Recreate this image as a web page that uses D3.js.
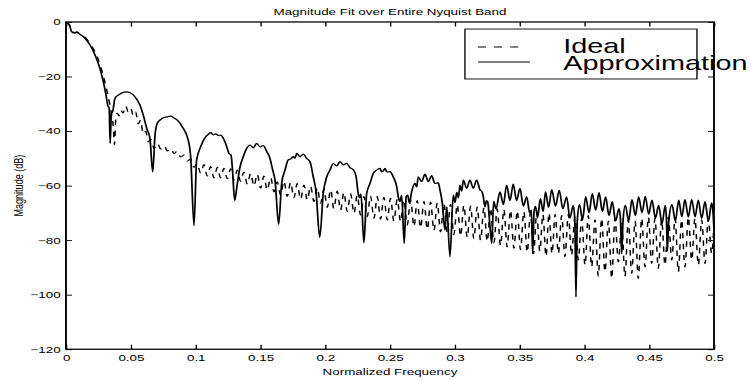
<!DOCTYPE html>
<html>
<head>
<meta charset="utf-8">
<script src="https://cdn.jsdelivr.net/npm/d3@7"></script>
<style>
  body { margin: 0; background: #fff; }
  svg { display: block; }
  text { font-family: "Liberation Sans", Arial, Helvetica, sans-serif; fill: #000; }
</style>
</head>
<body>
<script>
// tick values and labels
var xTicks = [0, 0.05, 0.1, 0.15, 0.2, 0.25, 0.3, 0.35, 0.4, 0.45, 0.5];
var xTickLabels = ["0", "0.05", "0.1", "0.15", "0.2", "0.25", "0.3", "0.35", "0.4", "0.45", "0.5"];
var yTicks = [-120, -100, -80, -60, -40, -20, 0];
var yTickLabels = ["\u2212120", "\u2212100", "\u221280", "\u221260", "\u221240", "\u221220", "0"];
var seriesNames = ["Ideal", "Approximation"];

// [normalized frequency, dB]
var ideal = [
  [0,0],[0.0026,-1.0],[0.0044,-3.3],[0.0069,-3.9],[0.0082,-3.6],[0.0108,-4.3],[0.0147,-5.6],[0.0185,-7.9],
  [0.0224,-11.0],[0.0262,-15.5],[0.0288,-19.8],[0.0314,-24.8],[0.0334,-29.3],[0.0353,-34.2],[0.0365,-38.5],[0.0374,-45.0],
  [0.0385,-35.0],[0.0396,-33.5],[0.0410,-34.5],[0.0422,-32.3],[0.0440,-33.4],[0.0461,-30.8],[0.0480,-33.0],[0.0499,-31.6],
  [0.0520,-34.4],[0.0538,-33.0],[0.0557,-37.4],[0.0576,-36.0],[0.0596,-41.0],[0.0615,-40.0],[0.0635,-44.0],[0.0654,-43.0],
  [0.0680,-46.5],[0.0705,-44.5],[0.0731,-46.6],[0.0757,-45.3],[0.0782,-47.3],[0.0808,-46.3],[0.0834,-48.3],[0.0859,-47.3],
  [0.0885,-49.5],[0.0911,-48.8],[0.0936,-51.0],[0.0962,-50.2],[0.0988,-53.3],[0.1013,-51.9],[0.1039,-55.5],[0.1065,-52.3],
  [0.1090,-56.5],[0.1116,-53.0],[0.1142,-57.2],[0.1168,-53.3],[0.1193,-57.2],[0.1219,-53.6],[0.1245,-57.5],[0.1270,-53.8],
  [0.1296,-58.0],[0.1322,-54.3],[0.1347,-58.5],[0.1373,-55.0],[0.1399,-59.5],[0.1425,-55.5],[0.1450,-60.2],[0.1476,-55.8],
  [0.1502,-61.0],[0.1527,-56.5],[0.1553,-61.7],[0.1579,-57.0],[0.1605,-62.3],[0.1630,-58.6],[0.1656,-63.5],[0.1682,-58.3],
  [0.1707,-64.0],[0.1733,-58.8],[0.1759,-64.5],[0.1784,-59.2],[0.1810,-65.0],[0.1836,-59.8],[0.1862,-65.3],[0.1887,-60.2],
  [0.1913,-65.8],[0.1939,-60.8],[0.1964,-66.5],[0.1990,-61.2],[0.2016,-68.0],[0.2042,-61.5],[0.2067,-68.5],[0.2093,-62.0],
  [0.2119,-69.0],[0.2144,-62.5],[0.2170,-69.5],[0.2196,-63.0],[0.2222,-70.2],[0.2247,-63.5],[0.2273,-70.8],[0.2299,-64.0],
  [0.2324,-71.5],[0.2350,-63.8],[0.2376,-72.0],[0.2402,-64.0],[0.2427,-72.3],[0.2453,-64.3],[0.2479,-72.7],[0.2504,-64.6],
  [0.2530,-73.0],[0.2556,-65.0],[0.2582,-73.3],[0.2607,-65.2],[0.2633,-74.5],[0.2659,-65.3],[0.2685,-75.0],[0.2710,-65.5],
  [0.2736,-75.5],[0.2762,-65.8],[0.2788,-76.0],[0.2813,-66.0],[0.2839,-76.5],[0.2865,-66.3],[0.2890,-77.0],[0.2916,-66.5],
  [0.2942,-77.3],[0.2967,-66.8],[0.2993,-78.0],[0.3019,-67.0],[0.3045,-78.5],[0.3070,-67.2],[0.3096,-79.0],[0.3122,-67.5],
  [0.3147,-79.5],[0.3173,-67.8],[0.3199,-80.0],[0.3225,-68.0],[0.3250,-80.5],[0.3276,-68.2],[0.3302,-81.0],[0.3327,-68.5],
  [0.3353,-82.0],[0.3379,-68.7],[0.3404,-82.5],[0.3430,-69.0],[0.3456,-83.0],[0.3482,-69.2],[0.3507,-83.5],[0.3533,-69.5],
  [0.3559,-84.5],[0.3584,-69.8],[0.3608,-85.0],[0.3632,-70.0],[0.3656,-84.0],[0.3680,-70.5],[0.3704,-86.0],[0.3727,-70.0],
  [0.3750,-85.0],[0.3775,-70.5],[0.3799,-84.9],[0.3825,-71.0],[0.3850,-86.1],[0.3876,-70.5],[0.3901,-85.5],[0.3927,-71.5],
  [0.3953,-87.3],[0.3979,-72.0],[0.4005,-89.2],[0.4030,-71.0],[0.4056,-89.8],[0.4082,-72.5],[0.4107,-93.2],[0.4133,-72.0],
  [0.4159,-91.6],[0.4185,-73.0],[0.4211,-94.1],[0.4236,-72.0],[0.4262,-88.0],[0.4288,-73.5],[0.4313,-93.4],[0.4339,-72.5],
  [0.4365,-92.2],[0.4391,-73.0],[0.4416,-94.1],[0.4442,-72.0],[0.4468,-89.8],[0.4494,-71.5],[0.4519,-88.6],[0.4545,-72.0],
  [0.4570,-90.4],[0.4596,-72.5],[0.4622,-89.2],[0.4648,-71.5],[0.4674,-87.3],[0.4700,-72.0],[0.4725,-91.6],[0.4750,-72.5],
  [0.4776,-89.8],[0.4802,-71.5],[0.4828,-87.3],[0.4853,-72.0],[0.4879,-89.2],[0.4905,-72.5],[0.4931,-88.6],[0.4956,-72.0],
  [0.4982,-84.9],[0.5,-74.0]
];

var approx = [
  [0,0],[0.0013,-0.5],[0.0026,-1.1],[0.0044,-3.6],[0.0069,-4.1],[0.0082,-3.8],[0.0108,-4.5],[0.0147,-6.0],[0.0185,-8.4],
  [0.0224,-12.1],[0.0262,-17.0],[0.0288,-21.9],[0.0309,-26.8],[0.0322,-30.5],[0.0333,-31.6],[0.0341,-44.5],[0.0350,-33.5],
  [0.0360,-32.9],[0.0378,-28.0],[0.0404,-26.8],[0.0442,-25.8],[0.0468,-25.6],[0.0494,-25.9],[0.0532,-27.4],[0.0571,-30.5],
  [0.0596,-34.1],[0.0623,-39.0],[0.0648,-42.7],[0.0669,-55.0],
  [0.0687,-41.5],[0.0704,-37.2],[0.0730,-35.8],[0.0756,-35.0],[0.0782,-34.8],[0.0808,-34.5],[0.0833,-35.2],[0.0859,-36.0],
  [0.0897,-38.4],[0.0949,-44.5],[0.0962,-49.4],[0.0988,-74.7],
  [0.1008,-50.6],[0.1039,-45.8],[0.1078,-42.1],[0.1098,-41.2],[0.1117,-40.6],[0.1136,-41.4],[0.1155,-41.0],[0.1175,-41.6],
  [0.1194,-41.5],[0.1213,-42.6],[0.1232,-44.5],[0.1258,-48.2],[0.1273,-48.8],[0.1283,-53.0],[0.1302,-65.5],
  [0.1317,-61.0],[0.1343,-53.1],[0.1368,-49.4],[0.1394,-46.4],[0.1420,-45.1],[0.1445,-46.2],[0.1471,-44.5],[0.1497,-45.8],
  [0.1522,-45.3],[0.1549,-47.5],[0.1574,-50.0],[0.1595,-54.3],[0.1613,-58.0],[0.1641,-74.2],
  [0.1664,-59.2],[0.1690,-54.3],[0.1715,-50.6],[0.1735,-50.2],[0.1754,-49.4],[0.1767,-50.0],[0.1780,-48.2],[0.1806,-49.4],
  [0.1831,-48.4],[0.1857,-50.0],[0.1883,-51.3],[0.1908,-56.8],[0.1929,-62.0],[0.1958,-79.0],
  [0.1985,-62.9],[0.2012,-56.8],[0.2037,-54.3],[0.2063,-51.9],[0.2089,-52.8],[0.2114,-51.2],[0.2140,-52.4],[0.2166,-51.8],
  [0.2191,-53.4],[0.2217,-54.2],[0.2238,-56.5],[0.2255,-62.9],[0.2265,-64.5],[0.2276,-63.0],[0.2299,-81.0],
  [0.2320,-62.9],[0.2346,-59.2],[0.2371,-55.5],[0.2397,-54.3],[0.2423,-53.7],[0.2436,-55.0],[0.2448,-54.6],[0.2462,-53.7],
  [0.2475,-55.0],[0.2500,-54.9],[0.2525,-56.8],[0.2552,-60.4],[0.2564,-64.1],[0.2577,-65.9],[0.2590,-63.5],[0.2610,-81.2],
  [0.2625,-64.1],[0.2637,-63.5],[0.2650,-66.5],[0.2667,-62.3],[0.2693,-59.2],[0.2706,-60.5],[0.2718,-56.8],[0.2745,-58.5],
  [0.2770,-55.8],[0.2796,-58.6],[0.2821,-56.3],[0.2847,-59.2],[0.2873,-59.0],[0.2886,-61.7],[0.2904,-66.5],[0.2924,-76.3],
  [0.2938,-67.8],[0.2963,-86.1],
  [0.2988,-63.5],[0.3002,-66.2],[0.3015,-62.5],[0.3028,-64.5],[0.3040,-59.8],[0.3053,-62.0],[0.3066,-58.0],[0.3092,-61.0],
  [0.3117,-58.0],[0.3143,-61.0],[0.3169,-58.0],[0.3194,-61.5],[0.3210,-62.2],[0.3220,-64.1],[0.3233,-67.8],[0.3244,-65.5],
  [0.3254,-66.0],[0.3272,-75.1],[0.3285,-81.2],
  [0.3300,-65.8],[0.3318,-68.5],[0.3349,-62.3],[0.3375,-67.0],[0.3400,-59.8],[0.3426,-65.5],[0.3451,-59.4],[0.3477,-65.5],
  [0.3503,-61.0],[0.3529,-67.5],[0.3555,-64.1],[0.3578,-70.0],[0.3591,-69.0],[0.3601,-85.0],[0.3612,-69.5],[0.3622,-67.6],
  [0.3640,-71.5],[0.3660,-64.8],[0.3682,-69.5],[0.3700,-62.3],[0.3724,-68.0],[0.3748,-61.5],[0.3777,-67.5],[0.3806,-61.7],
  [0.3834,-68.5],[0.3863,-64.1],[0.3888,-72.0],[0.3914,-67.2],[0.3926,-72.5],[0.3935,-100.8],[0.3945,-73.0],[0.3962,-67.0],
  [0.3986,-72.5],[0.4010,-64.0],[0.4036,-70.0],[0.4061,-62.9],[0.4087,-69.0],[0.4113,-62.6],[0.4139,-69.5],[0.4164,-64.1],
  [0.4190,-71.0],[0.4215,-65.9],[0.4241,-73.0],[0.4267,-68.4],[0.4278,-72.0],[0.4288,-85.0],[0.4298,-73.0],[0.4316,-67.2],
  [0.4342,-73.0],[0.4367,-65.1],[0.4393,-71.0],[0.4419,-64.1],[0.4445,-70.0],[0.4470,-63.9],[0.4496,-70.5],[0.4522,-65.3],
  [0.4548,-72.0],[0.4573,-67.2],[0.4599,-74.0],[0.4624,-67.2],[0.4633,-72.0],[0.4640,-84.0],[0.4650,-73.5],[0.4676,-67.0],
  [0.4702,-73.0],[0.4728,-65.3],[0.4752,-71.5],[0.4776,-65.1],[0.4802,-71.5],[0.4828,-65.1],[0.4854,-71.5],[0.4879,-65.3],
  [0.4905,-72.0],[0.4931,-65.9],[0.4957,-73.0],[0.4982,-66.3],[0.4993,-70.0],[0.5,-76.0]
];

chart();

function chart ()
{
    // drawn as a 560x420 figure, then stretched onto the 751x380 page like the picture
    var W = 560, H = 420;
    var left = 49.2, right = 532.4, top = 24.3, bottom = 386;

    var svg = d3.select("body").append("svg")
            .attr("width", 751)
            .attr("height", 380)
            .attr("viewBox", "0 0 " + W + " " + H)
            .attr("preserveAspectRatio", "none");

    var xScale = d3.scaleLinear().domain([0, 0.5]).range([left, right]);
    var yScale = d3.scaleLinear().domain([-120, 0]).range([bottom, top]);

    var line = d3.line()
            .x(function (d) { return xScale(d[0]); })
            .y(function (d) { return yScale(d[1]); })
            .curve(d3.curveMonotoneX);

    // curves
    svg.append("path")
            .attr("fill", "none")
            .attr("stroke", "#000")
            .attr("stroke-width", 1.1)
            .attr("stroke-dasharray", "6,6")
            .attr("d", line(ideal));
    svg.append("path")
            .attr("fill", "none")
            .attr("stroke", "#000")
            .attr("stroke-width", 1.3)
            .attr("stroke-linejoin", "round")
            .attr("d", line(approx));

    // axes, ticks pointing inward on all four sides
    function clean(g)
    {
        g.select(".domain").remove();
        g.selectAll(".tick line").attr("stroke", "#000").attr("stroke-width", 1);
        g.attr("font-size", 10);
    }
    svg.append("g")
            .attr("transform", "translate(0," + bottom + ")")
            .call(d3.axisBottom(xScale).tickValues(xTicks)
                    .tickFormat(function (d, i) { return xTickLabels[i]; })
                    .tickSizeInner(-5).tickSizeOuter(0).tickPadding(6))
            .call(clean);
    svg.append("g")
            .attr("transform", "translate(0," + top + ")")
            .call(d3.axisTop(xScale).tickValues(xTicks).tickFormat("")
                    .tickSizeInner(-5).tickSizeOuter(0))
            .call(clean);
    svg.append("g")
            .attr("transform", "translate(" + left + ",0)")
            .call(d3.axisLeft(yScale).tickValues(yTicks)
                    .tickFormat(function (d, i) { return yTickLabels[i]; })
                    .tickSizeInner(-4.5).tickSizeOuter(0).tickPadding(4))
            .call(clean);
    svg.append("g")
            .attr("transform", "translate(" + right + ",0)")
            .call(d3.axisRight(yScale).tickValues(yTicks).tickFormat("")
                    .tickSizeInner(-4.5).tickSizeOuter(0))
            .call(clean);

    // legend
    var lg = svg.append("g");
    lg.append("rect")
            .attr("x", 346.7).attr("y", 32.1)
            .attr("width", 173).attr("height", 55.2)
            .attr("fill", "#fff").attr("stroke", "#000").attr("stroke-width", 1);
    lg.append("line")
            .attr("x1", 356.4).attr("x2", 389.2).attr("y1", 51.9).attr("y2", 51.9)
            .attr("stroke", "#000").attr("stroke-width", 1.1).attr("stroke-dasharray", "6,6");
    lg.append("line")
            .attr("x1", 356.4).attr("x2", 395.2).attr("y1", 68.5).attr("y2", 68.5)
            .attr("stroke", "#000").attr("stroke-width", 1.3);
    lg.append("text").attr("x", 420).attr("y", 58.6).attr("font-size", 21.5).text(seriesNames[0]);
    lg.append("text").attr("x", 420).attr("y", 77.4).attr("font-size", 21.5).text(seriesNames[1]);

    // axes box
    svg.append("rect")
            .attr("x", left).attr("y", top)
            .attr("width", right - left).attr("height", bottom - top)
            .attr("fill", "none").attr("stroke", "#000").attr("stroke-width", 1.4);

    // titles
    svg.append("text")
            .attr("x", (left + right) / 2).attr("y", 16.5)
            .attr("text-anchor", "middle").attr("font-size", 10)
            .text("Magnitude Fit over Entire Nyquist Band");
    svg.append("text")
            .attr("x", (left + right) / 2).attr("y", 414)
            .attr("text-anchor", "middle").attr("font-size", 10)
            .text("Normalized Frequency");
    svg.append("text")
            .attr("transform", "translate(17," + (top + bottom) / 2 + ") rotate(-90)")
            .attr("text-anchor", "middle").attr("font-size", 10)
            .text("Magnitude (dB)");
}
</script>
</body>
</html>
